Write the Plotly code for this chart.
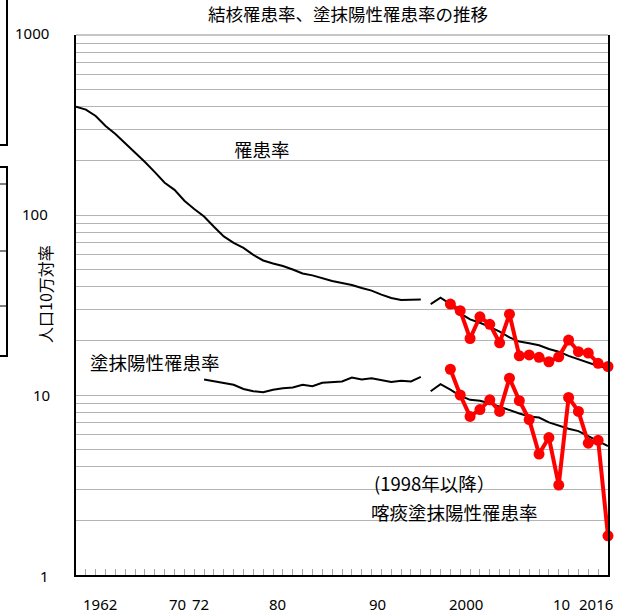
import plotly.graph_objects as go

# ---- data ----
years_old = list(range(1962, 1998))
incidence_old = [400, 385, 355, 312, 282, 251, 224, 197, 173, 151, 138, 120,
                 108, 98, 86, 76, 70, 65.6, 60, 55.9, 53.8, 52.1, 49.8, 47.3,
                 46.2, 44.4, 43.0, 41.9, 40.8, 39.3, 38.0, 36.1, 34.6, 33.7,
                 33.7, 33.9]

years_smear_old = list(range(1975, 1998))
smear_old = [12.2, 11.9, 11.7, 11.4, 10.8, 10.5, 10.35, 10.7, 10.9, 11.0, 11.4,
             11.2, 11.7, 11.8, 11.9, 12.5, 12.2, 12.4, 12.1, 11.8, 12.0, 11.9,
             12.6]

years_new = list(range(1998, 2017))
incidence_new = [32.0, 34.7, 32.0, 28.4, 26.3, 25.2, 23.9, 22.5, 20.9, 19.8,
                 19.4, 18.9, 18.0, 17.4, 16.5, 15.8, 15.0, 14.5, 14.1]
smear_new = [10.5, 11.5, 10.7, 9.9, 9.4, 9.3, 9.0, 8.6, 8.2, 7.9, 7.6, 7.5,
             7.05, 6.75, 6.5, 6.3, 5.9, 5.5, 5.2]

years_red = list(range(2000, 2017))
red_incidence = [32.0, 29.4, 20.6, 27.2, 24.7, 19.5, 28.1, 16.5, 16.7, 16.2,
                 15.3, 16.3, 20.2, 17.4, 17.1, 15.0, 14.4]
red_smear = [13.9, 10.0, 7.6, 8.3, 9.4, 8.1, 12.4, 9.3, 7.3, 4.7, 5.8, 3.16,
             9.7, 8.1, 5.4, 5.6, 1.65]

x_tick_labels = ["1962", "70", "72", "80", "90", "2000", "10", "2016"]
y_tick_labels = ["1000", "100", "10", "1"]

# ---- layout helpers (pixel -> paper) ----
L, R, T, B = 76, 608, 35, 575
W, H = 630, 616
def px(x):
    return (x - L) / (R - L)
def py(y):
    return (B - y) / (B - T)

JP = "Noto Sans CJK JP"
NUM = "Noto Sans"

fig = go.Figure()
black = dict(color="black", width=2)
fig.add_trace(go.Scatter(x=years_old, y=incidence_old, mode="lines", line=black))
fig.add_trace(go.Scatter(x=years_new, y=incidence_new, mode="lines", line=black))
fig.add_trace(go.Scatter(x=years_smear_old, y=smear_old, mode="lines", line=black))
fig.add_trace(go.Scatter(x=years_new, y=smear_new, mode="lines", line=black))
for ys in (red_incidence, red_smear):
    fig.add_trace(go.Scatter(x=years_red, y=ys, mode="lines+markers",
                             line=dict(color="#ff0000", width=4),
                             marker=dict(color="#ff0000", size=11),
                             cliponaxis=False))

grid_vals = [m * 10 ** e for e in range(3) for m in range(1, 10)] + [1000]

annotations = []
# x tick labels
x_label_px = [100, 177, 200, 277, 377, 466, 561, 596]
for t, x in zip(x_tick_labels, x_label_px):
    annotations.append(dict(text=t, x=px(x), y=py(604), xref="paper", yref="paper",
                            showarrow=False, font=dict(family=NUM, size=15, color="black"),
                            xanchor="center", yanchor="middle"))
# y tick labels
y_label_pos = [(32, 33), (35, 214), (41, 395), (44, 576)]
for t, (x, y) in zip(y_tick_labels, y_label_pos):
    annotations.append(dict(text=t, x=px(x), y=py(y), xref="paper", yref="paper",
                            showarrow=False, font=dict(family=NUM, size=15, color="black"),
                            xanchor="center", yanchor="middle"))
# y title
annotations.append(dict(text="人口10万対率", x=px(45), y=py(294), xref="paper", yref="paper",
                        showarrow=False, textangle=-90,
                        font=dict(family=JP, size=16, color="black"),
                        xanchor="center", yanchor="middle"))
# series labels
for t, x, y in [("罹患率", 262, 149), ("塗抹陽性罹患率", 155, 362),
                ("(1998年以降）", 434, 483), ("喀痰塗抹陽性罹患率", 454, 512)]:
    annotations.append(dict(text=t, x=px(x), y=py(y), xref="paper", yref="paper",
                            showarrow=False, font=dict(family=JP, size=18.5, color="black"),
                            xanchor="center", yanchor="middle"))
# title
annotations.append(dict(text="結核罹患率、塗抹陽性罹患率の推移", x=px(348), y=py(14),
                        xref="paper", yref="paper", showarrow=False,
                        font=dict(family=JP, size=17.5, color="black"),
                        xanchor="center", yanchor="middle"))

shapes = [
    dict(type="line", xref="paper", yref="paper", x0=0, x1=1, y0=1, y1=1,
         line=dict(color="#8c8c8c", width=1)),
    # cropped boxes at the left edge of the picture
    dict(type="rect", xref="paper", yref="paper", x0=px(-20), x1=px(7),
         y0=py(145), y1=py(-20), line=dict(color="black", width=2)),
    dict(type="rect", xref="paper", yref="paper", x0=px(-20), x1=px(7),
         y0=py(356), y1=py(167), line=dict(color="black", width=2)),
]
for yy in (184, 251, 306):
    shapes.append(dict(type="line", xref="paper", yref="paper", x0=px(-20), x1=px(7),
                       y0=py(yy), y1=py(yy), line=dict(color="black", width=1)))

fig.update_layout(
    width=W, height=H, autosize=False,
    margin=dict(l=L, r=W - R, t=T, b=H - B, pad=0),
    paper_bgcolor="white", plot_bgcolor="white",
    showlegend=False, hovermode=False,
    annotations=annotations, shapes=shapes,
    xaxis=dict(range=[1962, 2016], showline=True, linecolor="black", linewidth=2,
               ticks="inside", tick0=1962, dtick=1, ticklen=6, tickcolor="#a6a6a6",
               tickwidth=1, showgrid=False, zeroline=False, showticklabels=False),
    yaxis=dict(type="log", range=[0, 3], tickmode="array", tickvals=grid_vals,
               showticklabels=False, showgrid=True, gridcolor="#b4b4b4", gridwidth=1,
               showline=True, linecolor="black", linewidth=2, mirror=True,
               ticks="", zeroline=False),
)

fig.write_html("out.html", config={"displayModeBar": False},
               post_script="document.body.style.margin='0px';document.body.style.overflow='hidden';")
